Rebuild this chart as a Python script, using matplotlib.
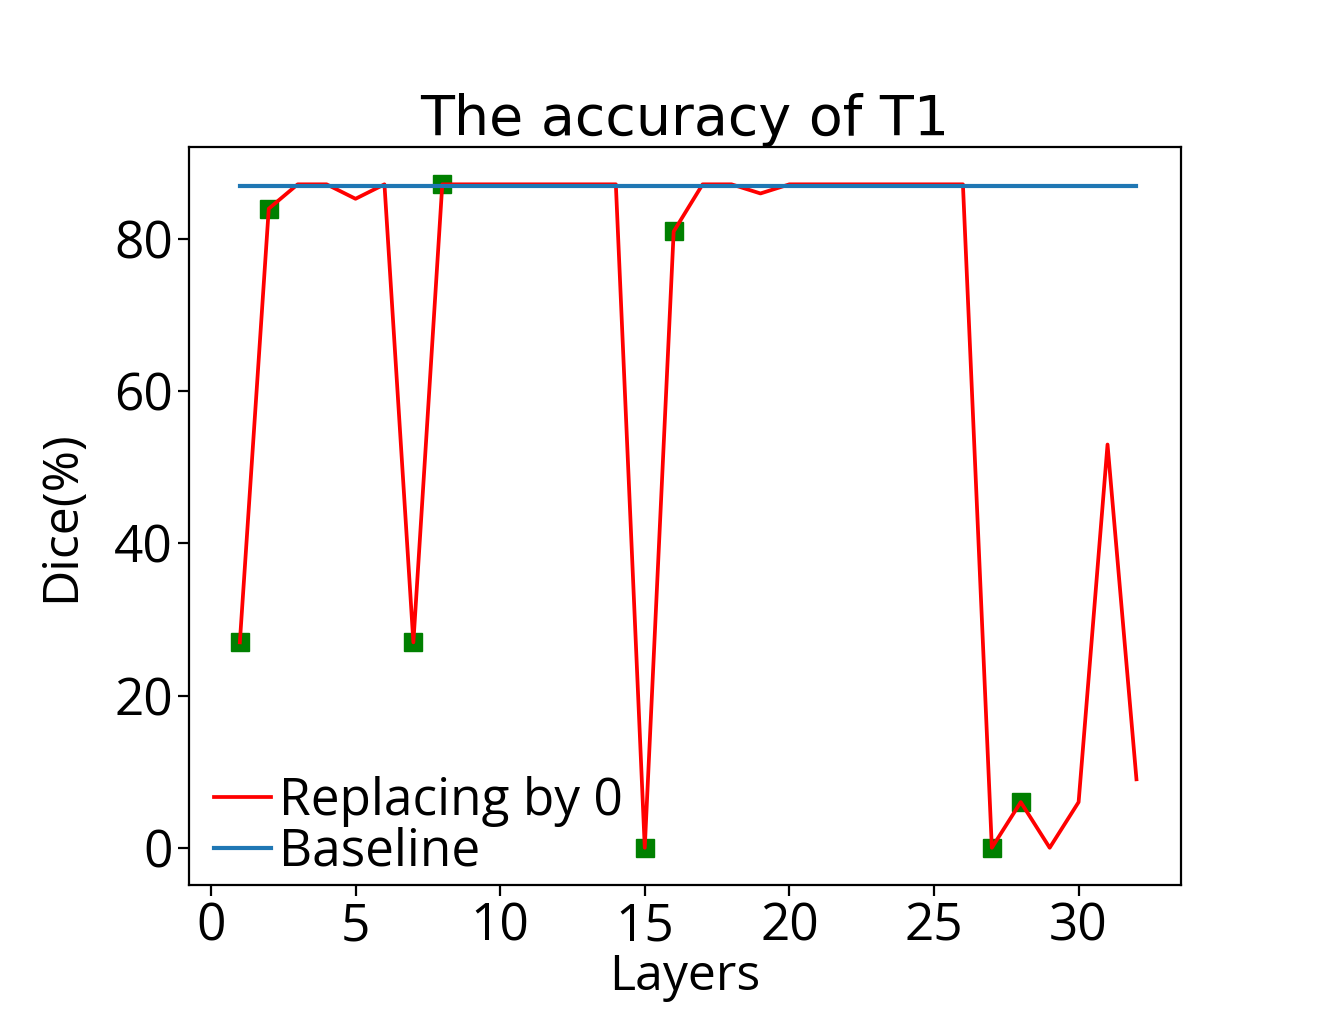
import matplotlib
matplotlib.use('Agg')
import matplotlib.pyplot as plt

# per-layer dice when replacing the layer by 0
layers = list(range(1, 33))
dice_zero = [27, 84, 87.2, 87.2, 85.3, 87.2, 27, 87.2,
             87.2, 87.2, 87.2, 87.2, 87.2, 87.2, 0, 81,
             87.2, 87.2, 86, 87.2, 87.2, 87.2, 87.2, 87.2,
             87.2, 87.2, 0, 6, 0, 6, 53, 9]
baseline = [87] * len(layers)

# highlighted layers (green squares)
marked_layers = [1, 2, 7, 8, 15, 16, 27, 28]
marked_dice = [27, 84, 27, 87.2, 0, 81, 0, 6]

plt.rcParams['font.family'] = ['Open Sans', 'DejaVu Sans']

fig = plt.figure(figsize=(13.39, 10.24), dpi=100)
ax = fig.add_axes([0.1411, 0.1357, 0.7409, 0.7207])

ax.plot(marked_layers, marked_dice, 's', color='green', markersize=13, zorder=1)
ax.plot(layers, dice_zero, color='red', linewidth=2.7, label='Replacing by 0', zorder=2)
ax.plot(layers, baseline, color='#1f77b4', linewidth=3, label='Baseline', zorder=3)

ax.set_xlim(-0.76, 33.54)
ax.set_ylim(-4.9, 92.1)
ax.set_xticks([0, 5, 10, 15, 20, 25, 30])
ax.set_yticks([0, 20, 40, 60, 80])

for s in ax.spines.values():
    s.set_linewidth(1.6)
ax.tick_params(labelsize=37, length=8, width=1.6)

ax.set_title('The accuracy of T1', fontsize=40, family='DejaVu Sans', pad=8)
ax.set_xlabel('Layers', fontsize=36, labelpad=0)
ax.set_ylabel('Dice(%)', fontsize=36, labelpad=20)

ax.legend(loc='lower left', frameon=False, fontsize=37, handlelength=1.1,
          handletextpad=0.15, labelspacing=0.0, borderaxespad=0.0,
          bbox_to_anchor=(0.005, -0.018))

fig.savefig('out.png', dpi=100)
